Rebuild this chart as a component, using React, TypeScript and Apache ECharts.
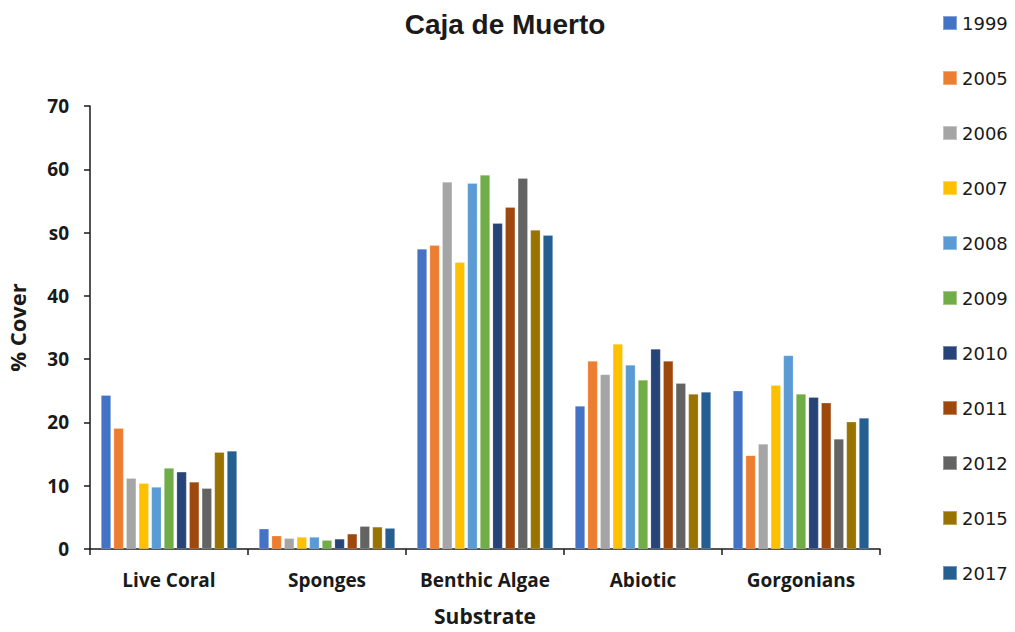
import React, { useEffect, useRef } from "react";
import * as echarts from "echarts";

const categories = ["Live Coral", "Sponges", "Benthic Algae", "Abiotic", "Gorgonians"];
const years = ["1999", "2005", "2006", "2007", "2008", "2009", "2010", "2011", "2012", "2015", "2017"];
const colors = ["#4472C4", "#ED7D31", "#A5A5A5", "#FFC000", "#5B9BD5", "#70AD47", "#264478", "#9E480E", "#636363", "#997300", "#255E91"];

const v1999 = [24.3, 3.2, 47.4, 22.6, 25.0];
const v2005 = [19.1, 2.1, 48.0, 29.7, 14.8];
const v2006 = [11.2, 1.7, 58.0, 27.6, 16.6];
const v2007 = [10.4, 1.9, 45.3, 32.4, 25.9];
const v2008 = [9.8, 1.9, 57.8, 29.1, 30.6];
const v2009 = [12.8, 1.4, 59.1, 26.7, 24.5];
const v2010 = [12.2, 1.6, 51.5, 31.6, 24.0];
const v2011 = [10.6, 2.4, 54.0, 29.7, 23.1];
const v2012 = [9.6, 3.6, 58.6, 26.2, 17.4];
const v2015 = [15.3, 3.5, 50.4, 24.5, 20.1];
const v2017 = [15.5, 3.3, 49.6, 24.8, 20.7];
const seriesValues = [v1999, v2005, v2006, v2007, v2008, v2009, v2010, v2011, v2012, v2015, v2017];

const yTickLabels: Record<number, string> = { 0: "0", 10: "10", 20: "20", 30: "30", 40: "40", 50: "s0", 60: "60", 70: "70" };

export default function App() {
  const ref = useRef<HTMLDivElement>(null);
  useEffect(() => {
    if (!ref.current) return;
    const chart = echarts.init(ref.current, null, { renderer: "svg" });
    const font = "'Open Sans', Lato, sans-serif";
    chart.setOption({
      animation: false,
      title: {
        text: "Caja de Muerto",
        left: 500,
        textAlign: "center",
        top: 5,
        textStyle: { fontFamily: "'Liberation Sans', Arial, sans-serif", fontWeight: "bold", fontSize: 28, color: "#1a1a1a" },
      },
      legend: {
        orient: "vertical",
        left: 937,
        top: 9,
        itemWidth: 14,
        itemHeight: 14,
        itemGap: 37,
        icon: "rect",
        data: years,
        textStyle: { fontFamily: "'DejaVu Sans', Verdana, sans-serif", fontSize: 18, color: "#1a1a1a", padding: [0, 0, 0, 0] },
      },
      grid: { left: 90, right: 135, top: 106, bottom: 83, containLabel: false, outerBoundsMode: "none" },
      xAxis: {
        type: "category",
        data: categories,
        name: "Substrate",
        nameLocation: "middle",
        nameGap: 56,
        nameTextStyle: { fontFamily: font, fontWeight: "bold", fontSize: 21, color: "#1a1a1a" },
        axisLine: { lineStyle: { color: "#1a1a1a", width: 1.5 } },
        axisTick: { show: true, length: 6, inside: false, lineStyle: { color: "#1a1a1a", width: 1.5 } },
        axisLabel: { fontFamily: font, fontWeight: "bold", fontSize: 19, color: "#1a1a1a", margin: 21, interval: 0, hideOverlap: false },
      },
      yAxis: {
        type: "value",
        min: 0,
        max: 70,
        interval: 10,
        name: "% Cover",
        nameLocation: "middle",
        nameGap: 62,
        nameTextStyle: { fontFamily: font, fontWeight: "bold", fontSize: 22, color: "#1a1a1a" },
        axisLine: { show: true, lineStyle: { color: "#1a1a1a", width: 1.5 } },
        axisTick: { show: true, length: 6, lineStyle: { color: "#1a1a1a", width: 1.5 } },
        splitLine: { show: false },
        axisLabel: {
          fontFamily: font,
          fontWeight: "bold",
          fontSize: 19,
          color: "#1a1a1a",
          margin: 21,
          formatter: (v: number) => yTickLabels[v] ?? String(v),
        },
      },
      series: years.map((y, i) => ({
        name: y,
        type: "bar",
        data: seriesValues[i],
        barWidth: 10,
        barGap: "26%",
        itemStyle: { color: colors[i], borderColor: "rgba(255,255,255,0.35)", borderWidth: 0.6 },
      })),
    });
    return () => chart.dispose();
  }, []);
  return <div ref={ref} style={{ width: 1015, height: 632, position: "absolute", left: 0, top: 0, background: "#fff" }} />;
}
